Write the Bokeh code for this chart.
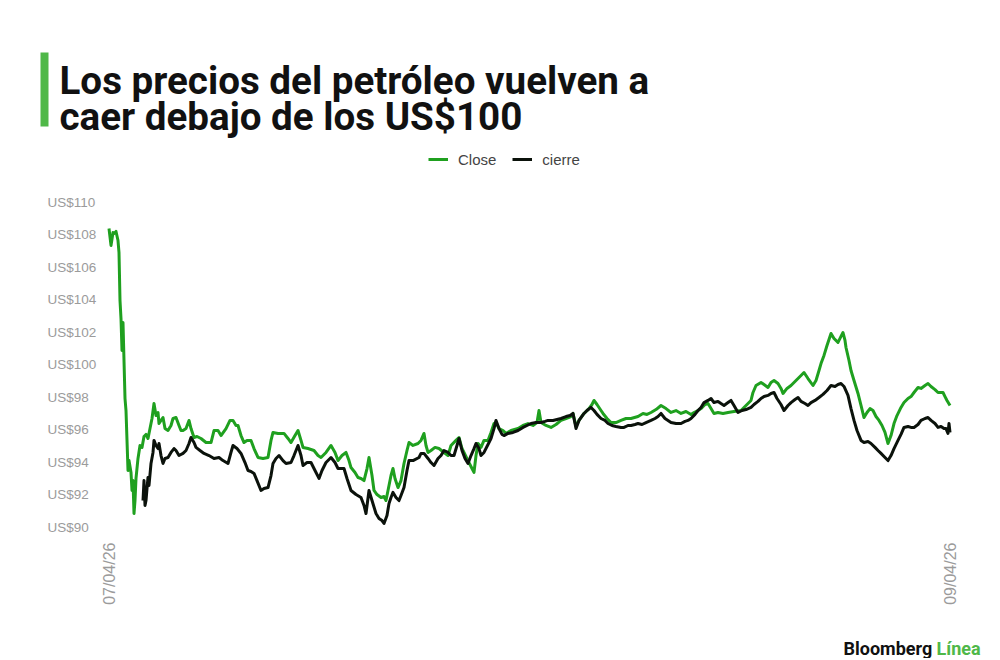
from math import pi
from bokeh.plotting import figure
from bokeh.models import Range1d, FixedTicker, Legend, LegendItem
from bokeh.layouts import column
from bokeh.core.properties import value
from bokeh.embed import file_html
from bokeh.resources import INLINE

# ---------------- data ----------------
TITLE_LINES = ["Los precios del petróleo vuelven a", "caer debajo de los US$100"]
SERIES_NAMES = ["Close", "cierre"]
DATE_LABELS = ["07/04/26", "09/04/26"]
Y_TICKS = [90, 92, 94, 96, 98, 100, 102, 104, 106, 108, 110]
Y_TICK_LABELS = ["US$90", "US$92", "US$94", "US$96", "US$98", "US$100",
                 "US$102", "US$104", "US$106", "US$108", "US$110"]
LOGO_WORDS = ["Bloomberg", "Línea"]

# sample index (0 = 07/04/26 open, 841 = 09/04/26 last)
close_t = [0, 2, 4, 5, 7, 9, 10, 11, 12, 13,
           14, 15, 16, 17, 18, 19, 20, 22, 23, 24,
           25, 26, 27, 29, 31, 33, 35, 37, 39, 41,
           43, 45, 47, 49, 50, 52, 54, 56, 59, 62,
           64, 67, 70, 72, 74, 77, 80, 82, 85, 88,
           92, 97, 102, 105, 109, 112, 117, 121, 124, 127,
           129, 132, 135, 138, 142, 145, 149, 154, 159, 162,
           164, 169, 175, 179, 182, 186, 189, 192, 194, 199,
           205, 209, 212, 217, 222, 226, 229, 233, 237, 240,
           242, 246, 249, 252, 255, 258, 260, 263, 265, 268,
           272, 275, 277, 280, 282, 284, 286, 289, 292, 295,
           298, 300, 304, 309, 312, 315, 317, 319, 322, 326,
           330, 335, 339, 342, 347, 350, 353, 355, 359, 363,
           365, 367, 369, 372, 375, 379, 382, 385, 387, 390,
           394, 397, 402, 409, 414, 419, 424, 428, 430, 432,
           437, 442, 447, 452, 457, 462, 464, 467, 470, 475,
           480, 483, 485, 488, 492, 494, 498, 502, 507, 512,
           517, 522, 529, 534, 538, 542, 547, 552, 557, 562,
           567, 572, 577, 582, 585, 589, 592, 596, 599, 602,
           605, 609, 614, 619, 625, 632, 637, 642, 644, 647,
           652, 655, 659, 662, 665, 669, 672, 674, 678, 682,
           687, 690, 695, 699, 704, 707, 710, 712, 715, 718,
           722, 725, 729, 732, 734, 736, 737, 740, 742, 745,
           749, 752, 755, 758, 761, 764, 767, 770, 773, 776,
           779, 782, 785, 788, 792, 795, 799, 802, 805, 809,
           812, 816, 819, 822, 826, 829, 832, 834, 836, 838,
           841]
close_price = [108.38, 107.34, 108.14, 108.07, 108.20, 107.64, 106.90, 103.95, 102.84, 100.87,
               102.60, 100.26, 97.92, 97.18, 95.34, 93.49, 94.10, 93.37, 92.26, 92.87,
               90.84, 91.64, 93.00, 94.23, 95.03, 94.91, 95.58, 95.71, 95.46, 96.07,
               96.69, 97.61, 96.87, 97.06, 96.38, 96.57, 96.75, 96.07, 95.95, 96.26,
               96.69, 96.75, 96.26, 95.95, 95.95, 96.07, 96.57, 96.07, 95.52, 95.58,
               95.46, 95.21, 95.21, 95.95, 95.95, 95.64, 96.07, 96.57, 96.57, 96.26,
               96.26, 95.64, 95.21, 95.34, 95.34, 94.84, 94.29, 94.23, 94.29, 95.34,
               95.83, 95.77, 95.77, 95.46, 95.21, 95.64, 95.95, 95.34, 94.91, 94.84,
               94.72, 94.41, 94.29, 94.60, 95.03, 94.60, 94.10, 94.41, 94.60, 94.10,
               93.67, 93.37, 93.06, 93.00, 92.87, 93.61, 94.29, 93.18, 92.26, 92.01,
               91.83, 91.89, 91.64, 92.57, 93.18, 93.61, 93.00, 92.44, 92.87, 93.92,
               94.72, 95.21, 95.03, 95.15, 95.34, 95.77, 95.03, 94.60, 94.72, 94.91,
               94.84, 94.60, 94.41, 95.03, 95.34, 95.52, 94.84, 94.60, 94.10, 93.61,
               93.37, 94.41, 95.15, 94.91, 95.34, 95.34, 95.83, 96.38, 96.44, 96.07,
               95.95, 95.77, 95.95, 96.07, 96.26, 96.38, 96.26, 96.44, 97.18, 96.44,
               96.26, 96.14, 96.32, 96.57, 96.69, 96.81, 97.00, 96.20, 96.57, 97.00,
               97.30, 97.55, 97.80, 97.55, 97.18, 97.00, 96.69, 96.44, 96.44, 96.57,
               96.69, 96.69, 96.81, 97.00, 96.94, 97.06, 97.24, 97.49, 97.30, 97.06,
               97.18, 97.00, 97.12, 96.94, 97.06, 97.18, 97.30, 97.55, 97.61, 97.30,
               97.00, 97.06, 97.00, 97.06, 97.12, 97.18, 97.49, 97.80, 98.29, 98.72,
               98.91, 98.78, 98.60, 98.91, 99.03, 98.84, 98.54, 98.23, 98.54, 98.72,
               99.03, 99.21, 99.52, 99.15, 98.72, 99.03, 99.64, 100.07, 100.57, 101.18,
               101.92, 101.61, 101.37, 101.74, 101.98, 101.49, 101.06, 100.26, 99.64, 99.03,
               98.23, 97.49, 96.75, 97.06, 97.30, 97.18, 96.81, 96.57, 96.26, 95.83,
               95.15, 95.64, 96.38, 96.87, 97.37, 97.67, 97.92, 98.04, 98.29, 98.60,
               98.54, 98.72, 98.84, 98.66, 98.47, 98.29, 98.29, 98.29, 98.04, 97.80,
               97.49]

cierre_t = [34, 35, 36, 37, 38, 39, 40, 42, 44, 45,
            47, 49, 50, 52, 54, 56, 59, 62, 65, 67,
            70, 74, 77, 80, 82, 85, 87, 91, 95, 100,
            105, 110, 114, 119, 122, 124, 128, 132, 136, 139,
            142, 145, 148, 152, 155, 159, 162, 164, 167, 170,
            174, 177, 182, 185, 189, 192, 194, 198, 202, 206,
            210, 213, 217, 222, 226, 229, 232, 235, 238, 242,
            247, 252, 255, 257, 260, 263, 267, 270, 273, 275,
            278, 280, 282, 284, 287, 290, 292, 295, 298, 300,
            304, 310, 312, 315, 319, 322, 325, 329, 332, 335,
            339, 342, 345, 348, 350, 353, 356, 359, 362, 365,
            367, 370, 372, 375, 379, 382, 385, 387, 390, 393,
            395, 399, 404, 409, 414, 418, 422, 427, 432, 436,
            439, 444, 448, 452, 457, 461, 464, 467, 470, 475,
            478, 482, 485, 488, 492, 496, 499, 503, 507, 512,
            515, 519, 522, 526, 529, 533, 537, 542, 546, 549,
            552, 556, 559, 562, 567, 572, 576, 579, 582, 586,
            589, 592, 595, 599, 602, 605, 609, 612, 615, 619,
            622, 625, 629, 633, 637, 642, 645, 649, 652, 655,
            659, 662, 665, 668, 672, 675, 679, 682, 686, 689,
            692, 696, 699, 702, 706, 710, 714, 718, 722, 726,
            729, 732, 735, 739, 742, 745, 748, 752, 755, 759,
            762, 766, 769, 772, 776, 779, 782, 785, 789, 792,
            795, 799, 802, 805, 809, 812, 816, 819, 822, 826,
            829, 832, 835, 837, 839, 840, 841]
cierre_price = [91.64, 92.87, 91.34, 91.64, 92.38, 93.06, 92.57, 93.92, 94.60, 95.34,
                95.03, 94.84, 95.15, 94.41, 93.92, 94.23, 94.29, 94.60, 94.84, 94.72,
                94.41, 94.54, 94.72, 95.15, 95.52, 95.21, 94.91, 94.72, 94.54, 94.41,
                94.23, 94.29, 94.10, 93.92, 94.60, 95.03, 94.84, 94.54, 93.98, 93.49,
                93.43, 93.31, 92.87, 92.26, 92.38, 92.44, 93.18, 93.92, 94.23, 94.41,
                94.10, 93.92, 93.98, 94.41, 95.03, 94.41, 93.80, 93.98, 93.98, 93.49,
                93.00, 93.49, 93.98, 94.29, 93.98, 93.61, 93.61, 93.61, 93.00, 92.26,
                92.01, 91.83, 91.34, 90.84, 92.26, 91.64, 90.84, 90.54, 90.41, 90.23,
                90.72, 91.46, 91.83, 92.14, 91.83, 91.64, 91.95, 92.44, 93.49, 94.10,
                94.10, 94.29, 94.54, 94.54, 94.23, 93.98, 93.80, 94.23, 94.41, 94.72,
                94.60, 94.41, 94.41, 95.03, 95.46, 94.72, 94.23, 93.92, 94.41, 94.84,
                95.15, 94.84, 94.41, 94.60, 95.09, 95.46, 96.07, 96.57, 96.07, 95.71,
                95.64, 95.77, 95.83, 95.95, 96.14, 96.26, 96.38, 96.44, 96.44, 96.51,
                96.57, 96.57, 96.63, 96.69, 96.81, 96.87, 97.00, 96.07, 96.57, 97.00,
                97.18, 97.37, 97.18, 96.94, 96.69, 96.57, 96.38, 96.26, 96.20, 96.14,
                96.14, 96.26, 96.26, 96.32, 96.38, 96.32, 96.44, 96.57, 96.69, 96.81,
                97.00, 96.69, 96.57, 96.44, 96.38, 96.38, 96.51, 96.57, 96.69, 96.94,
                97.18, 97.37, 97.67, 97.80, 97.92, 97.67, 97.74, 97.61, 97.49, 97.67,
                97.80, 97.49, 97.06, 97.18, 97.24, 97.37, 97.55, 97.74, 97.92, 98.04,
                98.11, 98.23, 98.29, 97.92, 97.55, 97.18, 97.49, 97.67, 97.86, 97.98,
                97.74, 97.61, 97.49, 97.67, 97.80, 97.98, 98.17, 98.41, 98.72, 98.66,
                98.78, 98.84, 98.66, 98.11, 97.30, 96.57, 95.95, 95.34, 95.21, 95.27,
                95.15, 94.91, 94.72, 94.54, 94.29, 94.10, 94.41, 94.84, 95.34, 95.71,
                96.14, 96.20, 96.14, 96.14, 96.32, 96.57, 96.69, 96.75, 96.57, 96.38,
                96.14, 96.20, 96.07, 96.07, 95.77, 96.38, 95.83]

# ---------------- layout / style (screen px) ----------------
W = 998
HEADER_H, MAIN_H, FOOTER_H = 140, 470, 48
FRAME_T, FRAME_B = HEADER_H, 540          # main frame spans the full width
X0_PX, X1_PX = 108.5, 949.5               # screen px of first / last sample
Y_HI_PX, Y_LO_PX = 201.7, 526.7           # screen px of top / bottom tick

GREEN_LINE = "#1fa01f"
BLACK_LINE = "#0b120b"
BRAND_GREEN = "#4fb848"
GRAY = "#9b9b9b"

t_first = 0
t_last = max(close_t)
ppu_x = (X1_PX - X0_PX) / (t_last - t_first)
x_start = t_first - X0_PX / ppu_x
x_end = t_last + (W - X1_PX) / ppu_x
ppu_y = (Y_LO_PX - Y_HI_PX) / (max(Y_TICKS) - min(Y_TICKS))
y_end = max(Y_TICKS) + (Y_HI_PX - FRAME_T) / ppu_y
y_start = min(Y_TICKS) - (FRAME_B - Y_LO_PX) / ppu_y


def blank(h, top):
    f = figure(width=W, height=h, x_range=Range1d(0, W),
               y_range=Range1d(top + h, top), toolbar_location=None,
               output_backend="svg", min_border=0, x_axis_location=None,
               y_axis_location=None, outline_line_color=None, title=None)
    f.grid.visible = False
    return f


# header
header = blank(HEADER_H, 0)
header.quad(left=[40], right=[48], top=[52], bottom=[126],
            fill_color=BRAND_GREEN, line_color=None)
header.text(x=[59, 59], y=[80, 115.5], text=TITLE_LINES,
            text_font=value("Roboto"), text_font_style="bold",
            text_font_size=value("38.6px"), text_baseline="alphabetic",
            text_color="#111111")

# main chart
p = figure(width=W, height=MAIN_H, x_range=Range1d(x_start, x_end),
           y_range=Range1d(y_start, y_end), toolbar_location=None,
           output_backend="svg", title=None, y_axis_location=None,
           min_border_left=0, min_border_right=0,
           min_border_top=FRAME_T - HEADER_H,
           min_border_bottom=HEADER_H + MAIN_H - FRAME_B,
           outline_line_color=None)
p.grid.visible = False

r_close = p.line(close_t, close_price, line_color=GREEN_LINE, line_width=3,
                 line_join="round")
r_cierre = p.line(cierre_t, cierre_price, line_color=BLACK_LINE, line_width=3,
                  line_join="round")

p.text(x=[x_start] * len(Y_TICKS), y=Y_TICKS, text=Y_TICK_LABELS, x_offset=47,
       text_align="left", text_baseline="middle",
       text_font=value("Liberation Sans"), text_font_size=value("13.5px"),
       text_color=GRAY)

ax = p.xaxis[0]
ax.ticker = FixedTicker(ticks=[t_first, t_last])
ax.major_label_overrides = {t_first: DATE_LABELS[0], t_last: DATE_LABELS[1]}
ax.major_label_orientation = pi / 2
ax.axis_line_color = None
ax.major_tick_line_color = None
ax.minor_tick_line_color = None
ax.major_tick_out = 0
ax.major_tick_in = 0
ax.major_label_standoff = 2
ax.major_label_text_font = "Liberation Sans"
ax.major_label_text_font_size = "16px"
ax.major_label_text_color = GRAY

legend = Legend(items=[LegendItem(label=SERIES_NAMES[0], renderers=[r_close]),
                       LegendItem(label=SERIES_NAMES[1], renderers=[r_cierre])],
                orientation="horizontal", location=(428, FRAME_B - 169),
                padding=0, margin=0, spacing=16, glyph_width=20, glyph_height=20,
                label_height=20, label_standoff=10,
                label_text_font="Liberation Sans", label_text_font_size="15px",
                label_text_color="#444444", border_line_color=None,
                background_fill_alpha=0)
p.add_layout(legend, "center")

# footer (logo)
footer_top = HEADER_H + MAIN_H
footer = blank(FOOTER_H, footer_top)
footer.text(x=[843], y=[648], text=[LOGO_WORDS[0]], text_font=value("Roboto"),
            text_font_style="bold", text_font_size=value("18px"),
            text_baseline="alphabetic", text_color="#111111")
footer.text(x=[936], y=[648], text=[LOGO_WORDS[1]], text_font=value("Roboto"),
            text_font_style="bold", text_font_size=value("18px"),
            text_baseline="alphabetic", text_color=BRAND_GREEN)

layout = column(header, p, footer, spacing=0)
open("out.html", "w").write(file_html(layout, INLINE))
